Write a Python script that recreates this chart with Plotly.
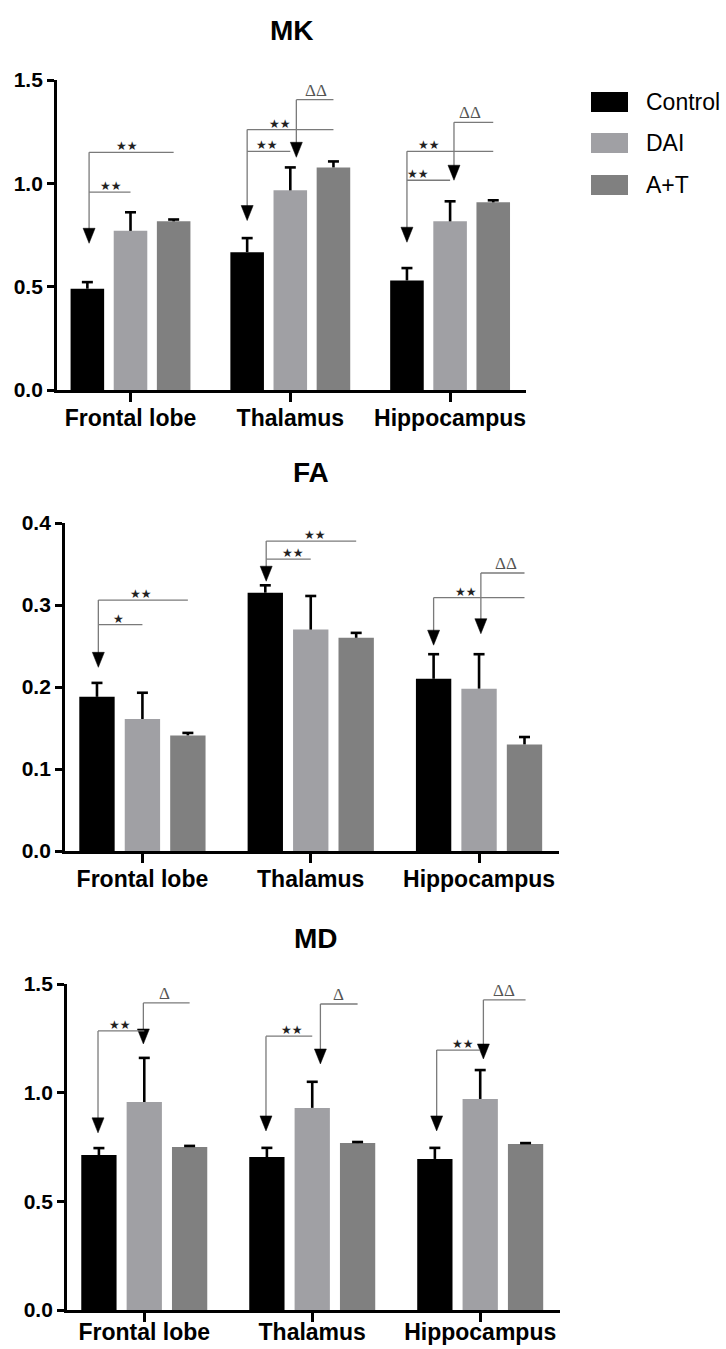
import plotly.graph_objects as go

# ---------------- data ----------------
regions = ["Frontal lobe", "Thalamus", "Hippocampus"]
groups = ["Control", "DAI", "A+T"]
group_colors = ["#000000", "#a0a0a4", "#808080"]

mk_control = [0.49, 0.667, 0.53]
mk_control_err = [0.032, 0.068, 0.06]
mk_dai = [0.77, 0.966, 0.816]
mk_dai_err = [0.09, 0.111, 0.097]
mk_at = [0.816, 1.077, 0.908]
mk_at_err = [0.009, 0.029, 0.01]

fa_control = [0.188, 0.315, 0.21]
fa_control_err = [0.017, 0.009, 0.03]
fa_dai = [0.161, 0.27, 0.198]
fa_dai_err = [0.032, 0.041, 0.042]
fa_at = [0.141, 0.26, 0.13]
fa_at_err = [0.003, 0.006, 0.009]

md_control = [0.713, 0.704, 0.695]
md_control_err = [0.032, 0.042, 0.051]
md_dai = [0.957, 0.93, 0.971]
md_dai_err = [0.203, 0.12, 0.133]
md_at = [0.75, 0.768, 0.764]
md_at_err = [0.005, 0.005, 0.004]

# significance brackets: (region, from group, to group, level, label, label pos in bar slots)
mk_brackets = [(0, 0, 2, 1.15, "★★", -0.07), (0, 0, 1, 0.957, "★★", -0.46),
               (1, 0, 2, 1.26, "★★", -0.23), (1, 0, 1, 1.155, "★★", -0.55),
               (1, 1, 2, 1.405, "ΔΔ", 0.6),
               (2, 0, 2, 1.155, "★★", -0.48), (2, 0, 1, 1.015, "★★", -0.74),
               (2, 1, 2, 1.295, "ΔΔ", 0.46)]
mk_arrows = [(0, 0, 0.71, 0.04), (1, 0, 0.82, 0.0), (1, 1, 1.126, 0.14),
             (2, 0, 0.715, 0.0), (2, 1, 1.015, 0.09)]

fa_brackets = [(0, 0, 2, 0.306, "★★", -0.04), (0, 0, 1, 0.276, "★", -0.52),
               (1, 0, 2, 0.378, "★★", 0.09), (1, 0, 1, 0.356, "★★", -0.4),
               (2, 0, 2, 0.309, "★★", -0.28), (2, 1, 2, 0.339, "ΔΔ", 0.59)]
fa_arrows = [(0, 0, 0.224, 0.03), (1, 0, 0.329, 0.02), (2, 0, 0.251, 0.0),
             (2, 1, 0.265, 0.04)]

md_brackets = [(0, 0, 1, 1.284, "★★", -0.53), (0, 1, 2, 1.413, "Δ", 0.44),
               (1, 0, 1, 1.26, "★★", -0.44), (1, 1, 2, 1.408, "Δ", 0.57),
               (2, 0, 1, 1.196, "★★", -0.39), (2, 1, 2, 1.427, "ΔΔ", 0.52)]
md_arrows = [(0, 0, 0.815, -0.02), (0, 1, 1.224, -0.02), (1, 0, 0.824, -0.02),
             (1, 1, 1.132, 0.18), (2, 0, 0.824, 0.04), (2, 1, 1.155, 0.07)]

panels = [
    dict(title="MK", vals=[mk_control, mk_dai, mk_at], errs=[mk_control_err, mk_dai_err, mk_at_err],
         yrange=[0, 1.5], ticks=[0, 0.5, 1.0, 1.5], brackets=mk_brackets, arrows=mk_arrows,
         xpx=(57, 526), ypx=(80, 390), title_px=(292, 30), label_standoff=-4),
    dict(title="FA", vals=[fa_control, fa_dai, fa_at], errs=[fa_control_err, fa_dai_err, fa_at_err],
         yrange=[0, 0.4], ticks=[0, 0.1, 0.2, 0.3, 0.4], brackets=fa_brackets, arrows=fa_arrows,
         xpx=(65, 559), ypx=(523, 851), title_px=(311, 472), label_standoff=-4),
    dict(title="MD", vals=[md_control, md_dai, md_at], errs=[md_control_err, md_dai_err, md_at_err],
         yrange=[0, 1.5], ticks=[0, 0.5, 1.0, 1.5], brackets=md_brackets, arrows=md_arrows,
         xpx=(67, 560), ypx=(984, 1310), title_px=(316, 938), label_standoff=-10),
]

# ---------------- layout constants ----------------
W, H = 726, 1349
XRANGE = [-0.46, 2.475]
BARGAP = 0.19
BARGROUPGAP = 0.222
SLOT = (1 - BARGAP) / 3
FONT = "Liberation Sans, Arial, sans-serif"
LINE_GRAY = "#7a7a7a"


def px_x(x):
    return x / W


def px_y(y):
    return 1 - y / H


fig = go.Figure()
shapes = []
annotations = []


def bar_x(g, b):
    return g + (b - 1) * SLOT


for p_i, p in enumerate(panels):
    sfx = "" if p_i == 0 else str(p_i + 1)
    xa, ya = "x" + sfx, "y" + sfx
    xref, yref = xa, ya
    xpx_per_unit = (p["xpx"][1] - p["xpx"][0]) / (XRANGE[1] - XRANGE[0])
    ypx_per_unit = (p["ypx"][1] - p["ypx"][0]) / (p["yrange"][1] - p["yrange"][0])

    for b, name in enumerate(groups):
        fig.add_trace(go.Bar(
            x=[0, 1, 2], y=p["vals"][b], name=name, xaxis=xa, yaxis=ya,
            marker=dict(color=group_colors[b], line=dict(width=0)),
            showlegend=False, offsetgroup=str(b)))

    # error bars (upper only)
    cap = 5.5 / xpx_per_unit
    ex, ey = [], []
    for b in range(3):
        for g in range(3):
            xc = bar_x(g, b)
            v = p["vals"][b][g]
            top = v + p["errs"][b][g]
            ex += [xc, xc, None, xc - cap, xc + cap, None]
            ey += [v, top, None, top, top, None]
    fig.add_trace(go.Scatter(x=ex, y=ey, mode="lines", xaxis=xa, yaxis=ya,
                             line=dict(color="black", width=2.6), showlegend=False,
                             hoverinfo="skip", cliponaxis=False))

    # arrows
    arrow_x = {}
    ah = 15 / ypx_per_unit
    aw = 6.0 / xpx_per_unit
    for (g, b, tip, dx) in p["arrows"]:
        axp = bar_x(g, b) + dx * SLOT
        arrow_x[(g, b)] = axp
        tops = [br[3] for br in p["brackets"] if br[0] == g and br[1] == b]
        ytop = max(tops)
        shapes.append(dict(type="line", xref=xref, yref=yref, x0=axp, x1=axp, y0=ytop, y1=tip + ah * 0.5,
                           line=dict(color=LINE_GRAY, width=1.3)))
        shapes.append(dict(type="path", xref=xref, yref=yref,
                           path=f"M {axp - aw},{tip + ah} L {axp + aw},{tip + ah} L {axp},{tip} Z",
                           fillcolor="black", line=dict(color="black", width=0.5)))

    for (g, s, e, lvl, lab, lpos) in p["brackets"]:
        x0 = arrow_x.get((g, s), bar_x(g, s))
        x1 = bar_x(g, e)
        shapes.append(dict(type="line", xref=xref, yref=yref, x0=x0, x1=x1, y0=lvl, y1=lvl,
                           line=dict(color=LINE_GRAY, width=1.3)))
        is_delta = "Δ" in lab
        annotations.append(dict(
            x=g + lpos * SLOT, y=lvl, xref=xref, yref=yref, text=lab, showarrow=False,
            yanchor="bottom", yshift=-2 if is_delta else -3,
            font=dict(family="Liberation Serif, serif" if is_delta else "DejaVu Sans",
                      size=17 if is_delta else 12, color="#555555" if is_delta else "#222222")))

    # title
    annotations.append(dict(x=px_x(p["title_px"][0]), y=px_y(p["title_px"][1]), xref="paper", yref="paper",
                            text="<b>" + p["title"] + "</b>", showarrow=False, xanchor="center",
                            yanchor="middle", font=dict(family=FONT, size=28, color="black")))

    xdom = [px_x(p["xpx"][0]), px_x(p["xpx"][1])]
    ydom = [px_y(p["ypx"][1]), px_y(p["ypx"][0])]
    fig.layout["xaxis" + sfx] = dict(
        domain=xdom, anchor=ya, range=XRANGE, tickvals=[0, 1, 2], ticktext=regions,
        showline=True, linecolor="black", linewidth=2.8, ticks="outside", ticklen=9,
        tickwidth=2.8, tickcolor="black", showgrid=False, zeroline=False,
        ticklabelstandoff=p["label_standoff"], automargin=False,
        tickfont=dict(family=FONT, size=23, color="black", weight="bold"), fixedrange=True)
    fig.layout["yaxis" + sfx] = dict(
        domain=ydom, anchor=xa, range=p["yrange"], tickvals=p["ticks"],
        ticktext=[f"{t:.1f}" for t in p["ticks"]],
        showline=True, linecolor="black", linewidth=2.8, ticks="outside", ticklen=7,
        tickwidth=2.8, tickcolor="black", showgrid=False, zeroline=False, automargin=False,
        tickfont=dict(family=FONT, size=21, color="black", weight="bold"), fixedrange=True)

# manual legend
legend_y = [102, 143, 185]
for b, name in enumerate(groups):
    shapes.append(dict(type="rect", xref="paper", yref="paper",
                       x0=px_x(591), x1=px_x(628), y0=px_y(legend_y[b] + 10), y1=px_y(legend_y[b] - 10),
                       fillcolor=group_colors[b], line=dict(width=0)))
    annotations.append(dict(x=px_x(644), y=px_y(legend_y[b]), xref="paper", yref="paper", text=name,
                            showarrow=False, xanchor="left", yanchor="middle",
                            font=dict(family=FONT, size=23, color="black")))

fig.update_layout(
    width=W, height=H, margin=dict(l=0, r=0, t=0, b=0, autoexpand=False),
    paper_bgcolor="white", plot_bgcolor="white",
    barmode="group", bargap=BARGAP, bargroupgap=BARGROUPGAP,
    shapes=shapes, annotations=annotations, showlegend=False,
)

fig.write_html("out.html", config={"displayModeBar": False},
               post_script="document.body.style.margin='0px';")
